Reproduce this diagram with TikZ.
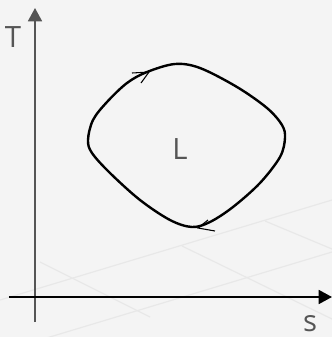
\documentclass[tikz,border=0pt]{standalone}
\usepackage{fontspec}
\setmainfont{Open Sans}
\usetikzlibrary{arrows.meta}
\definecolor{bgc}{HTML}{F4F4F4}
\definecolor{gridc}{HTML}{E8E8E8}
\definecolor{axisg}{HTML}{555555}
\definecolor{txt}{HTML}{555555}
\tikzset{
  gridline/.style={gridc, line width=0.9pt},
  axisline/.style={line width=1.3pt, -{Triangle[length=10pt,width=10.5pt]}},
  cycleline/.style={black, line width=1.8pt},
  harpoon/.style={black, line width=0.8pt},
  lbl/.style={txt, font=\fontsize{22}{26}\selectfont, inner sep=0pt, anchor=base}
}
\begin{document}
\begin{tikzpicture}[x=0.75pt,y=-0.75pt]
\fill[bgc] (0,0) rectangle (332,337);
\useasboundingbox (0,0) rectangle (332,337);
\begin{scope}
\clip (0,0) rectangle (332,337);
\draw[gridline] (0,300) -- (332,200);
\draw[gridline] (0,352) -- (332,252);
\draw[gridline] (40,262) -- (150,317);
\draw[gridline] (182,246) -- (332,319);
\draw[gridline] (265,221) -- (332,249);
\end{scope}
% axes
\coordinate (yb) at (35,322);
\coordinate (yt) at (35,8);
\coordinate (xl) at (9,297);
\coordinate (xr) at (332,297);
\draw[axisline, axisg] (yb) -- (yt);
\draw[axisline, black] (xl) -- (xr);
% cycle
\draw[cycleline] plot[smooth cycle, tension=0.55] coordinates {
 (88,140) (93,120) (107,102) (127,83) (147,72) (175,64) (200,68)
 (237,87) (267,108) (282,125) (285,138) (280,157) (260,183)
 (233,207) (210,222) (192,227) (170,220) (140,200) (110,173) (92,153)};
% direction marks
\coordinate (a1) at (149,72);
\coordinate (a1h) at (132,73);
\coordinate (a1d) at (141,83);
\draw[harpoon] (a1h) -- (a1) -- (a1d);
\coordinate (a2) at (198,228);
\coordinate (a2h) at (215,231);
\coordinate (a2u) at (208,220);
\draw[harpoon] (a2h) -- (a2) -- (a2u);
% labels
\node[lbl] (T) at (13,47) {T};
\node[lbl] (L) at (180,159) {L};
\node[lbl] (s) at (310,331) {s};
\end{tikzpicture}
\end{document}
